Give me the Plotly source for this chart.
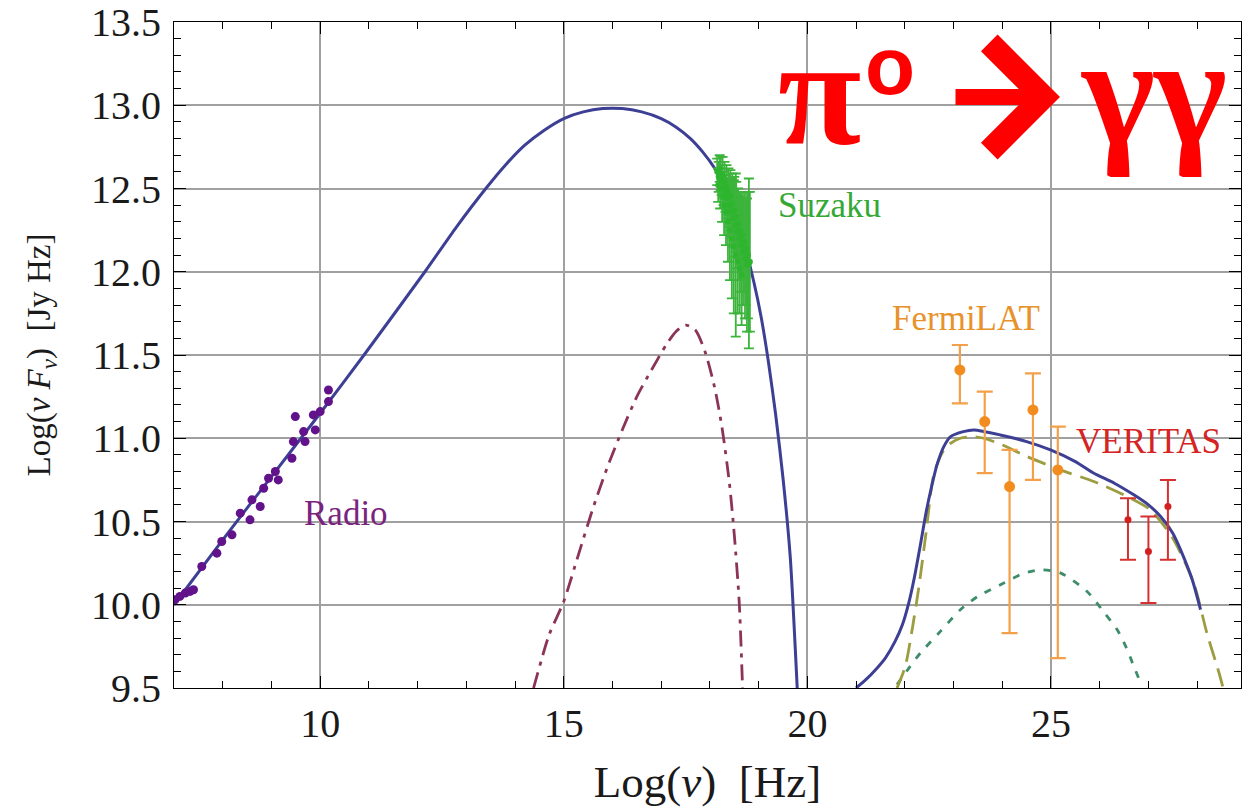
import plotly.graph_objects as go

# ---------------- data ----------------
radio_x = [7.02, 7.12, 7.23, 7.33, 7.40, 7.57, 7.88, 7.98, 8.19, 8.36, 8.56, 8.60, 8.77, 8.84,
           8.94, 9.08, 9.14, 9.42, 9.45, 9.49, 9.66, 9.69, 9.86, 9.90, 10.00, 10.17, 10.17]
radio_y = [10.03, 10.05, 10.07, 10.08, 10.09, 10.23, 10.31, 10.38, 10.42, 10.55, 10.51, 10.63, 10.59, 10.70,
           10.76, 10.80, 10.75, 10.88, 10.98, 11.13, 11.04, 10.98, 11.14, 11.05, 11.16, 11.22, 11.29]

suz_x = [18.15, 18.17, 18.18, 18.20, 18.21, 18.22, 18.24, 18.25, 18.26, 18.28, 18.29, 18.30, 18.32,
         18.33, 18.34, 18.36, 18.37, 18.38, 18.40, 18.41, 18.42, 18.44, 18.45, 18.46, 18.48, 18.49,
         18.50, 18.52, 18.53, 18.54, 18.56, 18.57, 18.58, 18.60, 18.61, 18.62, 18.64, 18.65, 18.66,
         18.68, 18.70, 18.72, 18.74, 18.76, 18.78, 18.80, 18.82]
suz_y = [12.60, 12.52, 12.57, 12.62, 12.50, 12.59, 12.55, 12.45, 12.58, 12.50, 12.40, 12.54, 12.47,
         12.36, 12.51, 12.44, 12.30, 12.48, 12.40, 12.25, 12.45, 12.36, 12.20, 12.41, 12.32, 12.15,
         12.37, 12.28, 12.10, 12.33, 12.24, 12.06, 12.29, 12.20, 12.02, 12.25, 12.16, 11.98, 12.22,
         12.12, 12.18, 12.08, 12.14, 12.04, 12.10, 12.05, 12.06]
suz_e = [0.08, 0.10, 0.09, 0.08, 0.12, 0.10, 0.09, 0.15, 0.11, 0.10, 0.18, 0.12, 0.11,
         0.20, 0.13, 0.12, 0.24, 0.14, 0.13, 0.30, 0.16, 0.15, 0.36, 0.18, 0.17, 0.40,
         0.20, 0.19, 0.49, 0.21, 0.22, 0.31, 0.21, 0.25, 0.27, 0.23, 0.28, 0.30, 0.26,
         0.32, 0.30, 0.36, 0.34, 0.40, 0.38, 0.51, 0.42]

fermi_x = [23.13, 23.64, 24.15, 24.63, 25.14]
fermi_y = [11.41, 11.10, 10.71, 11.17, 10.81]
fermi_up = [0.15, 0.18, 0.22, 0.22, 0.26]
fermi_lo = [0.20, 0.31, 0.88, 0.42, 1.13]

ver_x = [26.58, 27.00, 27.40]
ver_y = [10.51, 10.32, 10.59]
ver_up = [0.13, 0.21, 0.16]
ver_lo = [0.24, 0.31, 0.32]

# model curves
sync_x = [7.0, 8.0, 9.0, 10.0, 10.9, 12.15, 12.8, 13.4, 13.8, 14.2, 14.6, 15.0, 15.4, 15.8, 16.2,
          16.6, 17.0, 17.3, 17.6, 17.85, 18.1, 18.3, 18.5, 18.7, 18.9, 19.05, 19.2, 19.35, 19.5,
          19.65, 19.8]
sync_y = [10.00, 10.39, 10.77, 11.15, 11.50, 12.00, 12.27, 12.50, 12.64, 12.76, 12.85, 12.92, 12.96,
          12.98, 12.98, 12.96, 12.92, 12.87, 12.80, 12.72, 12.62, 12.51, 12.36, 12.17, 11.94, 11.73,
          11.46, 11.14, 10.76, 10.28, 9.45]

sec_x = [14.38, 14.70, 15.00, 15.30, 15.60, 15.90, 16.20, 16.50, 16.80, 17.10, 17.30, 17.50, 17.70,
         17.90, 18.10, 18.25, 18.40, 18.50, 18.60, 18.67]
sec_y = [9.50, 9.82, 10.02, 10.30, 10.58, 10.83, 11.05, 11.25, 11.41, 11.56, 11.64, 11.68, 11.65,
         11.52, 11.30, 11.06, 10.73, 10.42, 10.02, 9.50]

tot_x = [21.0, 21.2, 21.4, 21.6, 21.8, 21.95, 22.08, 22.2, 22.32, 22.44, 22.55, 22.66, 22.80, 22.94,
         23.20, 23.42, 23.96, 24.50, 24.99, 25.50, 25.88, 26.30, 26.70, 27.00, 27.25, 27.50, 27.66,
         27.90, 28.07]
tot_y = [9.50, 9.55, 9.61, 9.68, 9.78, 9.88, 10.01, 10.17, 10.36, 10.56, 10.71, 10.84, 10.95, 11.01,
         11.04, 11.05, 11.02, 10.98, 10.93, 10.86, 10.79, 10.73, 10.66, 10.60, 10.53, 10.43, 10.33,
         10.15, 9.97]

pi_x = [21.84, 22.01, 22.15, 22.29, 22.43, 22.60, 22.80, 22.94, 23.14, 23.40, 23.62, 24.00, 24.51,
        25.19, 25.88, 26.56, 27.04, 27.50, 27.93, 28.20, 28.45, 28.55]
pi_y = [9.50, 9.63, 9.85, 10.11, 10.42, 10.79, 10.93, 10.97, 11.00, 11.01, 11.00, 10.96, 10.89,
        10.81, 10.74, 10.65, 10.57, 10.40, 10.13, 9.83, 9.59, 9.48]

brem_x = [21.84, 22.11, 22.32, 22.73, 23.14, 23.50, 24.03, 24.45, 24.81, 25.20, 25.74, 26.10, 26.36,
          26.55, 26.70, 26.84]
brem_y = [9.52, 9.63, 9.71, 9.84, 9.97, 10.05, 10.13, 10.19, 10.21, 10.19, 10.08, 9.95, 9.85,
          9.74, 9.63, 9.53]

labels = ["Radio", "Suzaku", "FermiLAT", "VERITAS"]
label_x = [10.52, 20.45, 23.25, 27.00]
label_y = [10.55, 12.40, 11.72, 10.98]
label_col = ["#7a237e", "#35a835", "#e8922c", "#d42424"]

# ---------------- figure ----------------
SERIF = "Liberation Serif"
BLUE = "#3c3f94"
RED = "#ff0000"

fig = go.Figure()

fig.add_trace(go.Scatter(x=sec_x, y=sec_y, mode="lines", line=dict(color="#8c3458", width=2.8,
                         dash="16px,7px,4px,7px", shape="spline", smoothing=0.7), hoverinfo="skip"))
fig.add_trace(go.Scatter(x=brem_x, y=brem_y, mode="lines", line=dict(color="#3d8d6a", width=2.8,
                         dash="7px,9px", shape="spline", smoothing=0.7), hoverinfo="skip"))
fig.add_trace(go.Scatter(x=pi_x, y=pi_y, mode="lines", line=dict(color="#9c9c40", width=2.8,
                         dash="19px,9px", shape="spline", smoothing=0.7), hoverinfo="skip"))
fig.add_trace(go.Scatter(x=sync_x, y=sync_y, mode="lines", line=dict(color=BLUE, width=3,
                         shape="spline", smoothing=0.6), hoverinfo="skip"))
fig.add_trace(go.Scatter(x=tot_x, y=tot_y, mode="lines", line=dict(color=BLUE, width=3,
                         shape="spline", smoothing=0.6), hoverinfo="skip"))

fig.add_trace(go.Scatter(x=suz_x, y=suz_y, mode="markers",
                         marker=dict(color="#2eb52e", size=6),
                         error_y=dict(type="data", array=suz_e, color="#3cb43c", thickness=1.8, width=5)))
fig.add_trace(go.Scatter(x=radio_x, y=radio_y, mode="markers",
                         marker=dict(color="#62128a", size=9)))
fig.add_trace(go.Scatter(x=fermi_x, y=fermi_y, mode="markers",
                         marker=dict(color="#f28c1e", size=11),
                         error_y=dict(type="data", symmetric=False, array=fermi_up, arrayminus=fermi_lo,
                                      color="#f4a04a", thickness=2.2, width=8)))
fig.add_trace(go.Scatter(x=ver_x, y=ver_y, mode="markers",
                         marker=dict(color="#d41f1f", size=7),
                         error_y=dict(type="data", symmetric=False, array=ver_up, arrayminus=ver_lo,
                                      color="#d63030", thickness=2.0, width=8)))

for t, lx, ly, c in zip(labels, label_x, label_y, label_col):
    fig.add_annotation(x=lx, y=ly, text=t, showarrow=False, xanchor="center", yanchor="middle",
                       font=dict(family=SERIF, size=35, color=c))


def px_x(p):
    return (p - 174) / 1067


def px_y(p):
    return (688 - p) / 666


# red reaction label  "π° → γγ"
fig.add_annotation(xref="paper", yref="paper", x=px_x(819), y=px_y(93),
                   text="<b>π</b>", showarrow=False, xanchor="center", yanchor="middle",
                   font=dict(family=SERIF, size=152, color=RED))
fig.add_annotation(xref="paper", yref="paper", x=px_x(890), y=px_y(66),
                   text="<b>o</b>", showarrow=False, xanchor="center", yanchor="middle",
                   font=dict(family="Liberation Sans", size=82, color=RED))
fig.add_annotation(xref="paper", yref="paper", x=px_x(1060), y=px_y(97),
                   text="", showarrow=True, ax=-106, ay=0, arrowhead=4, arrowwidth=16, arrowsize=1.3,
                   arrowcolor=RED, standoff=0)
fig.add_annotation(xref="paper", yref="paper", x=px_x(1118), y=px_y(92),
                   text="<b>γ</b>", showarrow=False, xanchor="center", yanchor="middle",
                   font=dict(family=SERIF, size=156, color=RED))
fig.add_annotation(xref="paper", yref="paper", x=px_x(1190), y=px_y(92),
                   text="<b>γ</b>", showarrow=False, xanchor="center", yanchor="middle",
                   font=dict(family=SERIF, size=156, color=RED))

axis_common = dict(
    showgrid=True, gridcolor="#a0a0a0", gridwidth=1.6,
    showline=True, linecolor="black", linewidth=1.2, mirror="allticks",
    ticks="inside", ticklen=12, tickwidth=1.2, tickcolor="black",
    zeroline=False, automargin=False,
    tickfont=dict(family=SERIF, size=40, color="#1a1a1a"),
)

fig.update_xaxes(range=[7, 28.9], tick0=0, dtick=5, ticklabelstandoff=0,
                 minor=dict(dtick=1, ticks="inside", ticklen=7, tickcolor="black", showgrid=False),
                 title=dict(text="Log(<i>ν</i>)\u00a0\u00a0[Hz]", standoff=22,
                            font=dict(family=SERIF, size=45, color="#1a1a1a")),
                 **axis_common)
fig.update_yaxes(range=[9.5, 13.5], tick0=9.5, dtick=0.5, tickformat=".1f", ticklabelstandoff=4,
                 minor=dict(dtick=0.1, ticks="inside", ticklen=7, tickcolor="black", showgrid=False),
                 title=dict(text="Log(<i>ν F</i><sub><i>ν</i></sub>)\u00a0\u00a0[Jy Hz]", standoff=30,
                            font=dict(family=SERIF, size=33, color="#1a1a1a")),
                 **axis_common)

fig.update_layout(width=1251, height=807, margin=dict(l=174, r=10, t=22, b=119),
                  font=dict(family=SERIF),
                  paper_bgcolor="white", plot_bgcolor="white", showlegend=False)

fig.write_html("out.html")
